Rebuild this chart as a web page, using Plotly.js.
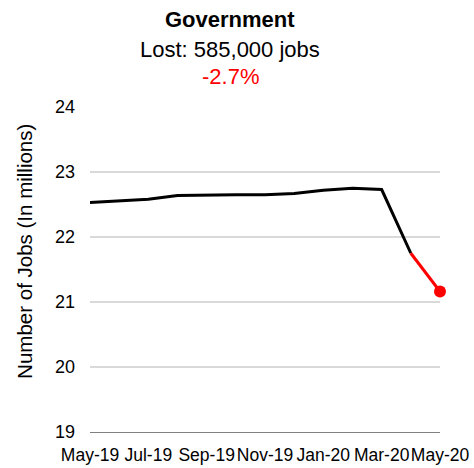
<!DOCTYPE html>
<html><head><meta charset="utf-8">
<script src="https://cdn.plot.ly/plotly-3.0.1.min.js"></script>
<style>html,body{margin:0;padding:0;background:#fff}#c{width:474px;height:468px}</style>
</head><body><div id="c"></div>
<script>
const months = ["May-19","Jun-19","Jul-19","Aug-19","Sep-19","Oct-19","Nov-19","Dec-19","Jan-20","Feb-20","Mar-20","Apr-20","May-20"];
const jobs = [22.53,22.55,22.58,22.64,22.65,22.65,22.65,22.67,22.72,22.75,22.73,21.75,21.16];
const tickMonths = ["May-19","Jul-19","Sep-19","Nov-19","Jan-20","Mar-20","May-20"];
const titleMain = "Government";
const titleSub = "Lost: 585,000 jobs";
const titlePct = "-2.7%";
const yTitle = "Number of Jobs (In millions)";

const F = "Liberation Sans, Arial, sans-serif";
const n = months.length;
const traces = [
  {x: months.slice(0, n-1), y: jobs.slice(0, n-1), mode: "lines", line: {color: "#000", width: 3}, hoverinfo: "skip"},
  {x: months.slice(n-2), y: jobs.slice(n-2), mode: "lines", line: {color: "#ff0000", width: 3}, hoverinfo: "skip"},
  {x: months.slice(n-1), y: jobs.slice(n-1), mode: "markers", marker: {color: "#ff0000", size: 12}, cliponaxis: false, hoverinfo: "skip"}
];
const layout = {
  width: 474, height: 468,
  margin: {l: 90, r: 34, t: 107, b: 36},
  showlegend: false,
  paper_bgcolor: "#fff", plot_bgcolor: "#fff",
  font: {family: F, color: "#000"},
  xaxis: {
    type: "category", categoryorder: "array", categoryarray: months,
    range: [0, n-1], tickvals: tickMonths, ticktext: tickMonths, tickangle: 0,
    showgrid: false, zeroline: false, showline: true, linecolor: "#808080", linewidth: 1,
    ticks: "", tickfont: {family: F, size: 17.5, color: "#000"}, ticklabelstandoff: 7
  },
  yaxis: {
    range: [19, 24], tickvals: [19,20,21,22,23,24], showgrid: true, gridcolor: "#d9d9d9", gridwidth: 1.5,
    zeroline: false, showline: false, ticks: "", tickfont: {family: F, size: 18, color: "#000"},
    ticklabelstandoff: 14
  },
  annotations: [
    {text: "<b>" + titleMain + "</b>", xref: "paper", yref: "paper", x: 0.4, y: 1.268, xanchor: "center", yanchor: "middle", showarrow: false, font: {family: F, size: 22, color: "#000"}},
    {text: titleSub, xref: "paper", yref: "paper", x: 0.4, y: 1.178, xanchor: "center", yanchor: "middle", showarrow: false, font: {family: F, size: 22, color: "#000"}},
    {text: titlePct, xref: "paper", yref: "paper", x: 0.4, y: 1.093, xanchor: "center", yanchor: "middle", showarrow: false, font: {family: F, size: 22, color: "#ff0000"}},
    {text: yTitle, xref: "paper", yref: "paper", x: -0.186, y: 0.557, xanchor: "center", yanchor: "middle", textangle: -90, showarrow: false, font: {family: F, size: 20.5, color: "#000"}}
  ]
};
Plotly.newPlot("c", traces, layout, {displayModeBar: false, staticPlot: true});
</script></body></html>
